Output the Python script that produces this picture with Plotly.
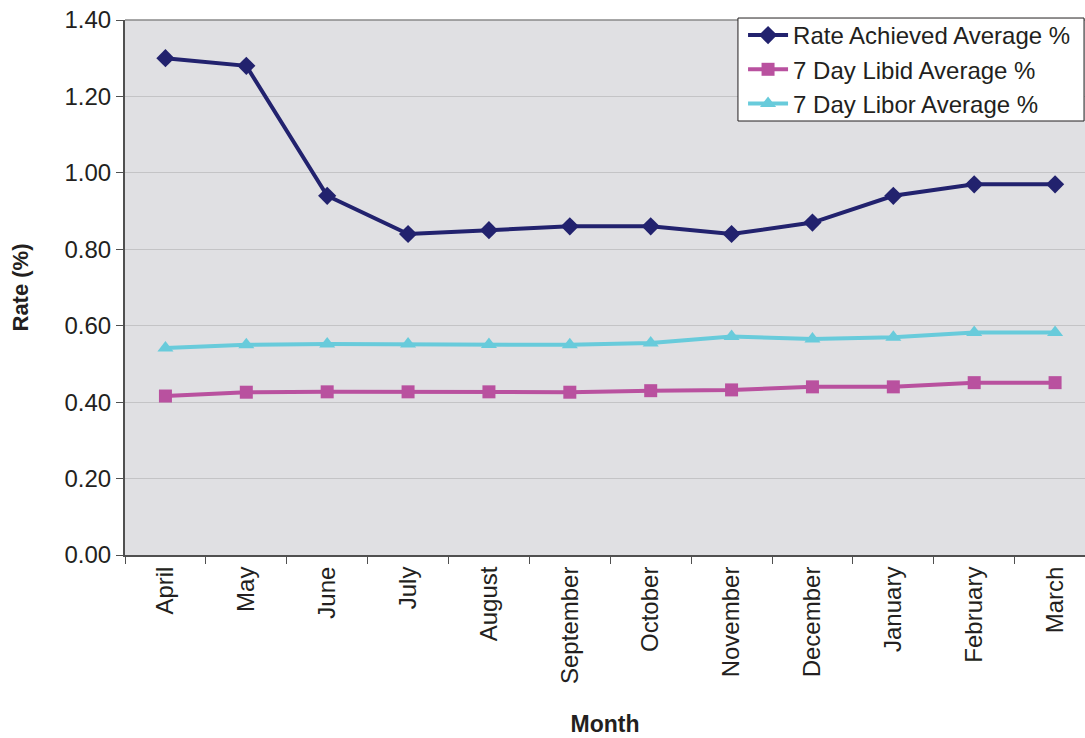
import plotly.graph_objects as go

months = ["April", "May", "June", "July", "August", "September", "October",
          "November", "December", "January", "February", "March"]
rate_achieved = [1.30, 1.28, 0.94, 0.84, 0.85, 0.86, 0.86, 0.84, 0.87, 0.94, 0.97, 0.97]
libid_7day = [0.416, 0.426, 0.427, 0.427, 0.427, 0.426, 0.430, 0.432, 0.440, 0.440, 0.451, 0.451]
libor_7day = [0.542, 0.550, 0.552, 0.552, 0.551, 0.550, 0.555, 0.572, 0.565, 0.570, 0.582, 0.582]
y_ticks = [0.0, 0.2, 0.4, 0.6, 0.8, 1.0, 1.2, 1.4]

font_family = "Liberation Sans, Arial, sans-serif"

fig = go.Figure()
fig.add_trace(go.Scatter(
    x=months, y=rate_achieved, name="Rate Achieved Average %",
    mode="lines+markers",
    line=dict(color="#22226e", width=4),
    marker=dict(symbol="diamond", size=14, color="#22226e"),
))
fig.add_trace(go.Scatter(
    x=months, y=libid_7day, name="7 Day Libid Average %",
    mode="lines+markers",
    line=dict(color="#b9519f", width=4),
    marker=dict(symbol="square", size=13, color="#b9519f"),
))
fig.add_trace(go.Scatter(
    x=months, y=libor_7day, name="7 Day Libor Average %",
    mode="lines+markers",
    line=dict(color="#68cbdb", width=4),
    marker=dict(symbol="triangle-up", size=14, color="#68cbdb"),
))

fig.update_layout(
    width=1085, height=738,
    margin=dict(l=125, r=0, t=20, b=183),
    paper_bgcolor="white",
    plot_bgcolor="#e0e0e3",
    font=dict(family=font_family, size=24, color="#231f20"),
    showlegend=True,
    legend=dict(
        x=0.6438, xanchor="left", y=1.0131, yanchor="top",
        bgcolor="rgba(0,0,0,0)", borderwidth=0,
        font=dict(size=24, color="#231f20"),
        tracegroupgap=0, itemwidth=40,
    ),
    shapes=[
        # plot-area top border
        dict(type="line", xref="paper", yref="paper", x0=0, x1=1, y0=1, y1=1,
             line=dict(color="#8a8a8a", width=1.5)),
        # legend frame
        dict(type="rect", xref="paper", yref="paper", layer="above",
             x0=0.6385, x1=0.999, y0=0.8112, y1=1.0037,
             fillcolor="white", line=dict(color="#231f20", width=1)),
    ],
)
fig.update_xaxes(
    type="category", range=[-0.5, 11.37],
    tickangle=-90, ticks="outside", ticklen=7, tickcolor="#505050",
    tickson="boundaries",
    showline=True, linecolor="#505050", linewidth=2,
    showgrid=False,
    title=dict(text="<b>Month</b>", font=dict(size=23), standoff=33),
    tickfont=dict(size=24),
)
fig.update_yaxes(
    range=[0, 1.4], tickvals=y_ticks, tickformat=".2f",
    ticks="outside", ticklen=7, tickcolor="#505050",
    showline=True, linecolor="#505050", linewidth=2,
    showgrid=True, gridcolor="#c4c4c6", gridwidth=1,
    zeroline=False,
    title=dict(text="<b>Rate (%)</b>", font=dict(size=22), standoff=30),
    tickfont=dict(size=24),
)

fig.write_html("out.html")
